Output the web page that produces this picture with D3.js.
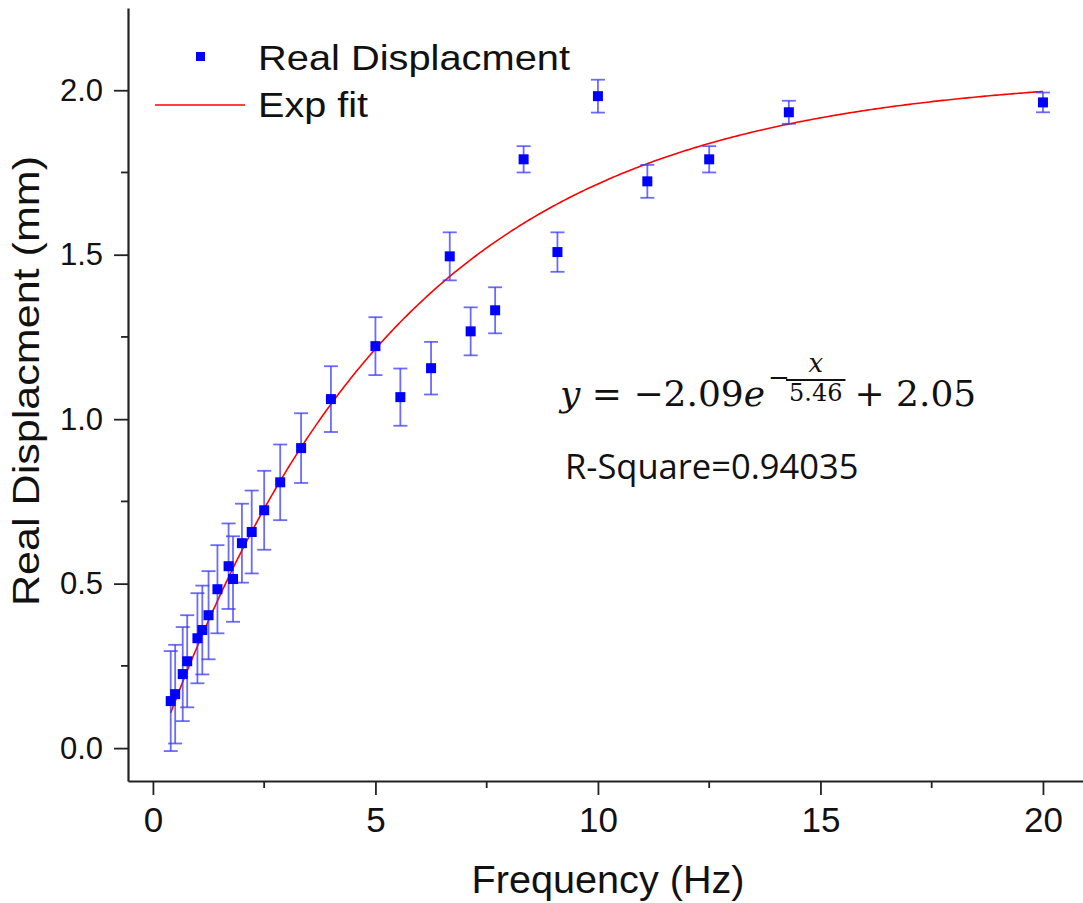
<!DOCTYPE html>
<html>
<head>
<meta charset="utf-8">
<script src="https://cdn.jsdelivr.net/npm/d3@7"></script>
<style>
  body { margin: 0; background: #fff; }
  svg { display: block; font-family: "Liberation Sans", Arial, sans-serif; }
</style>
</head>
<body>
<svg id="chart" width="1083" height="903"></svg>
<script>
// measured points (frequency in Hz, displacement in mm, error bar half-height)
const freq = [0.4, 0.5, 0.67, 0.77, 1.0, 1.11, 1.25, 1.45, 1.7, 1.8, 2.0, 2.22, 2.5, 2.86,
  3.33, 4.0, 5.0, 5.56, 6.25, 6.67, 7.14, 7.69, 8.33, 9.09, 10.0, 11.11, 12.5, 14.29, 20.0];
const disp = [0.143, 0.164, 0.225, 0.264, 0.334, 0.359, 0.404, 0.483, 0.553, 0.514, 0.623, 0.657, 0.723, 0.808,
  0.912, 1.061, 1.222, 1.067, 1.155, 1.495, 1.267, 1.331, 1.79, 1.508, 1.982, 1.723, 1.79, 1.933, 1.963];
const errs = [0.152, 0.15, 0.143, 0.14, 0.137, 0.135, 0.134, 0.134, 0.13, 0.13, 0.12, 0.126, 0.12, 0.115,
  0.106, 0.1, 0.088, 0.087, 0.08, 0.073, 0.073, 0.07, 0.04, 0.06, 0.05, 0.05, 0.04, 0.035, 0.03];

// exp fit parameters shown on the chart: y = A*exp(-x/t) + y0
const fitA = -2.09, fitT = 5.46, fitY0 = 2.05;
const fitRange = [0.4, 20];

const xTicks = [0, 5, 10, 15, 20];
const xMinor = [2.5, 7.5, 12.5, 17.5];
const yTicks = [0, 0.5, 1.0, 1.5, 2.0];
const yMinor = [0.25, 0.75, 1.25, 1.75];

const svg = d3.select("#chart");
const x = d3.scaleLinear().domain([-0.56, 20.9]).range([128, 1083]);
const y = d3.scaleLinear().domain([-0.1, 2.25]).range([781, 8]);

const points = freq.map((f, i) => ({ f, d: disp[i], e: errs[i] }));

// fit curve
const fitX = d3.range(fitRange[0], fitRange[1] + 0.001, 0.05);
const line = d3.line().x(d => x(d)).y(d => y(fitA * Math.exp(-d / fitT) + fitY0));
svg.append("path")
  .attr("d", line(fitX))
  .attr("fill", "none")
  .attr("stroke", "#ff0000")
  .attr("stroke-width", 1.6);

// error bars
const eb = svg.append("g")
  .attr("stroke", "#3a3aff")
  .attr("stroke-opacity", 0.75)
  .attr("stroke-width", 1.8);
points.forEach(p => {
  eb.append("line").attr("x1", x(p.f)).attr("x2", x(p.f))
    .attr("y1", y(p.d + p.e)).attr("y2", y(p.d - p.e));
  [p.d + p.e, p.d - p.e].forEach(v => {
    eb.append("line").attr("x1", x(p.f) - 7).attr("x2", x(p.f) + 7)
      .attr("y1", y(v)).attr("y2", y(v));
  });
});

// markers
svg.append("g").selectAll("rect")
  .data(points)
  .join("rect")
  .attr("x", d => x(d.f) - 5)
  .attr("y", d => y(d.d) - 5)
  .attr("width", 10)
  .attr("height", 10)
  .attr("fill", "#0000ff");

// axes
const xAxis = d3.axisBottom(x).tickValues(xTicks).tickSize(14).tickSizeOuter(0).tickPadding(12);
const gx = svg.append("g").attr("transform", "translate(0,781)").call(xAxis);
gx.selectAll(".tick line").attr("stroke-width", 1.8).attr("stroke", "#222");
gx.selectAll("text").attr("font-size", 35).attr("fill", "#111")
  .attr("font-family", "Liberation Sans Narrow, Liberation Sans, Arial");
gx.select(".domain").attr("stroke", "#222").attr("stroke-width", 2.2);
gx.append("g").selectAll("line")
  .data(xMinor)
  .join("line")
  .attr("x1", d => x(d)).attr("x2", d => x(d))
  .attr("y1", 0).attr("y2", 7)
  .attr("stroke", "#222").attr("stroke-width", 1.8);

const yAxis = d3.axisLeft(y).tickValues(yTicks).tickFormat(d3.format(".1f"))
  .tickSize(14).tickSizeOuter(0).tickPadding(11);
const gy = svg.append("g").attr("transform", "translate(128,0)").call(yAxis);
gy.selectAll(".tick line").attr("stroke-width", 1.8).attr("stroke", "#222");
gy.selectAll("text").attr("font-size", 31).attr("fill", "#111");
gy.select(".domain").attr("stroke", "#222").attr("stroke-width", 2.2);
gy.append("g").selectAll("line")
  .data(yMinor)
  .join("line")
  .attr("x1", 0).attr("x2", -7)
  .attr("y1", d => y(d)).attr("y2", d => y(d))
  .attr("stroke", "#222").attr("stroke-width", 1.8);

// axis titles
svg.append("text")
  .attr("x", 608).attr("y", 893)
  .attr("text-anchor", "middle")
  .attr("font-size", 39)
  .attr("fill", "#111")
  .attr("textLength", 273).attr("lengthAdjust", "spacingAndGlyphs")
  .text("Frequency (Hz)");

svg.append("text")
  .attr("transform", "translate(39,381) rotate(-90)")
  .attr("text-anchor", "middle")
  .attr("font-size", 36)
  .attr("fill", "#111")
  .attr("textLength", 450).attr("lengthAdjust", "spacingAndGlyphs")
  .text("Real Displacment (mm)");

// legend
const leg = svg.append("g");
leg.append("rect").attr("x", 196).attr("y", 52).attr("width", 9).attr("height", 9).attr("fill", "#0000ff");
leg.append("line").attr("x1", 155).attr("x2", 245).attr("y1", 105).attr("y2", 105)
  .attr("stroke", "#ff0000").attr("stroke-width", 1.6);
leg.append("text").attr("x", 258).attr("y", 70).attr("font-size", 35).attr("fill", "#111")
  .attr("textLength", 312).attr("lengthAdjust", "spacingAndGlyphs")
  .text("Real Displacment");
leg.append("text").attr("x", 258).attr("y", 117).attr("font-size", 35).attr("fill", "#111")
  .attr("textLength", 110).attr("lengthAdjust", "spacingAndGlyphs")
  .text("Exp fit");

// equation
const eq = svg.append("g").attr("font-family", "DejaVu Serif, Liberation Serif, serif").attr("fill", "#111");
const t1 = eq.append("text").attr("x", 560).attr("y", 406).attr("font-size", 36);
t1.append("tspan").attr("font-style", "italic").text("y");
t1.append("tspan").text(" = \u22122.09");
t1.append("tspan").attr("font-style", "italic").text("e");
const w1 = t1.node().getComputedTextLength();
let cx = 560 + w1 + 3;
eq.append("text").attr("x", cx).attr("y", 386).attr("font-size", 26).text("\u2212");
cx += 21;
const den = eq.append("text").attr("x", cx).attr("y", 401).attr("font-size", 24).text("5.46");
const wd = den.node().getComputedTextLength();
eq.append("line").attr("x1", cx - 3).attr("x2", cx + wd + 3).attr("y1", 380).attr("y2", 380)
  .attr("stroke", "#111").attr("stroke-width", 1.8);
eq.append("text").attr("x", cx + wd / 2).attr("y", 372).attr("text-anchor", "middle")
  .attr("font-size", 26).attr("font-style", "italic").text("x");
eq.append("text").attr("x", cx + wd + 12).attr("y", 406).attr("font-size", 36).text("+ 2.05");

svg.append("text")
  .attr("x", 565).attr("y", 479)
  .attr("font-family", "Open Sans, Lato, sans-serif")
  .attr("font-size", 34.5)
  .attr("fill", "#111")
  .text("R-Square=0.94035");
</script>
</body>
</html>
